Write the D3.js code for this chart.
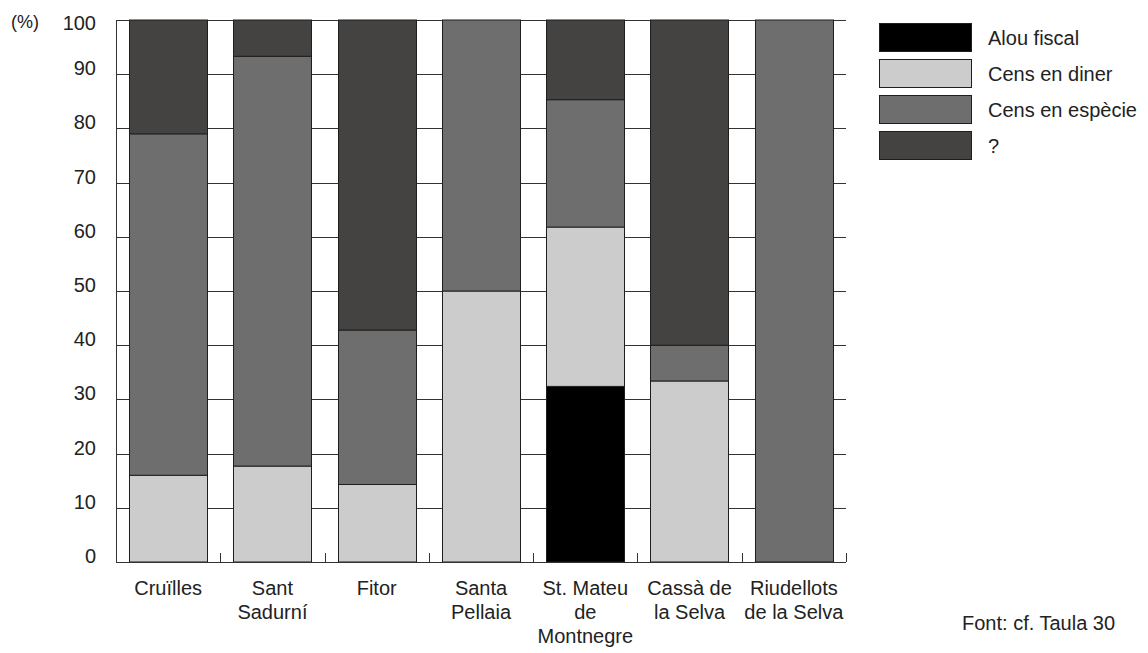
<!DOCTYPE html>
<html>
<head>
<meta charset="utf-8">
<script src="https://cdn.jsdelivr.net/npm/d3@7"></script>
<style>
  body { margin: 0; background: #fff; }
  svg text { font-family: "Liberation Sans", Arial, sans-serif; fill: #222; }
</style>
</head>
<body>
<svg id="chart" width="1148" height="653"></svg>
<script>
// places (multi-line labels)
const places = [
    ['Cruïlles'],
    ['Sant', 'Sadurní'],
    ['Fitor'],
    ['Santa', 'Pellaia'],
    ['St. Mateu', 'de', 'Montnegre'],
    ['Cassà de', 'la Selva'],
    ['Riudellots', 'de la Selva']
];

const seriesNames = ['Alou fiscal', 'Cens en diner', 'Cens en espècie', '?'];
const seriesColors = ['#000000', '#cccccc', '#6e6e6e', '#454242'];

// values in %, per place
const alouFiscal   = [0,    0,    0,    0,  32.4, 0,    0];
const censDiner    = [16.0, 17.7, 14.3, 50, 29.4, 33.4, 0];
const censEspecie  = [63.0, 75.6, 28.5, 50, 23.5, 6.6,  100];
const unknown      = [21.0, 6.7,  57.2, 0,  14.7, 60.0, 0];

const yTicks = [0, 10, 20, 30, 40, 50, 60, 70, 80, 90, 100];

const svg = d3.select('#chart');
const margin = {left: 116, top: 20, right: 1148 - 846, bottom: 653 - 562};
const width = 846 - margin.left;
const height = 562 - margin.top;

let g = svg.append('g').attr('transform', `translate(${margin.left},${margin.top})`);

let rows = places.map((p, i) => ({
    key: i,
    s0: alouFiscal[i],
    s1: censDiner[i],
    s2: censEspecie[i],
    s3: unknown[i]
}));

let x = d3.scaleBand()
    .domain(d3.range(places.length))
    .range([0, width])
    .paddingInner(0.25)
    .paddingOuter(0.125);

let y = d3.scaleLinear().domain([0, 100]).range([height, 0]);

// gridlines
g.selectAll('.grid')
    .data(yTicks.filter(t => t > 0))
    .enter()
    .append('line')
    .attr('x1', 0).attr('x2', width)
    .attr('y1', d => Math.round(y(d)) + 0.5).attr('y2', d => Math.round(y(d)) + 0.5)
    .attr('stroke', '#333').attr('stroke-width', 1);

// stacked bars
let stack = d3.stack().keys(['s0', 's1', 's2', 's3']);
let layers = stack(rows);

g.selectAll('.layer')
    .data(layers)
    .enter()
    .append('g')
    .attr('fill', (d, i) => seriesColors[i])
    .selectAll('rect')
    .data(d => d.filter(v => v[1] - v[0] > 0))
    .enter()
    .append('rect')
    .attr('x', d => Math.round(x(d.data.key)) + 0.5)
    .attr('width', Math.round(x.bandwidth()))
    .attr('y', d => y(d[1]))
    .attr('height', d => y(d[0]) - y(d[1]))
    .attr('stroke', '#1e1e1e')
    .attr('stroke-width', 1);

// y axis (labels sit a little above their gridline, as in the original)
let yAxis = d3.axisLeft(y).tickValues(yTicks).tickSize(0).tickPadding(20);
let ya = g.append('g').call(yAxis);
ya.select('.domain').attr('stroke', '#333');
ya.selectAll('text')
    .style('font-size', '20px')
    .attr('fill', '#222')
    .attr('y', d => d === 100 ? 3 : -6);

// x axis: baseline + short ticks between categories
g.append('line')
    .attr('x1', 0).attr('x2', width)
    .attr('y1', height + 0.5).attr('y2', height + 0.5)
    .attr('stroke', '#333');

let step = x.step();
g.selectAll('.xtick')
    .data(d3.range(1, places.length + 1))
    .enter()
    .append('line')
    .attr('x1', k => Math.round(k * step) + 0.5)
    .attr('x2', k => Math.round(k * step) + 0.5)
    .attr('y1', height).attr('y2', height - 9)
    .attr('stroke', '#333');

// category labels
let labels = g.selectAll('.cat')
    .data(places)
    .enter()
    .append('text')
    .attr('text-anchor', 'middle')
    .style('font-size', '20px')
    .attr('transform', (d, i) => `translate(${x(i) + x.bandwidth() / 2},${height + 33})`);

labels.selectAll('tspan')
    .data(d => d)
    .enter()
    .append('tspan')
    .attr('x', 0)
    .attr('y', (d, i) => i * 24)
    .text(d => d);

// (%) label
svg.append('text')
    .attr('x', 11).attr('y', 28)
    .style('font-size', '18px')
    .text('(%)');

// legend
let legend = svg.append('g').attr('transform', 'translate(879,23)');
let items = legend.selectAll('.item')
    .data(seriesNames)
    .enter()
    .append('g')
    .attr('transform', (d, i) => `translate(0,${i * 36})`);

items.append('rect')
    .attr('x', 0.5).attr('y', 0.5)
    .attr('width', 92).attr('height', 28)
    .attr('fill', (d, i) => seriesColors[i])
    .attr('stroke', '#1e1e1e');

items.append('text')
    .attr('x', 109).attr('y', 22)
    .style('font-size', '20px')
    .text(d => d);

// source note
svg.append('text')
    .attr('x', 962).attr('y', 630)
    .style('font-size', '20px')
    .text('Font: cf. Taula 30');
</script>
</body>
</html>
